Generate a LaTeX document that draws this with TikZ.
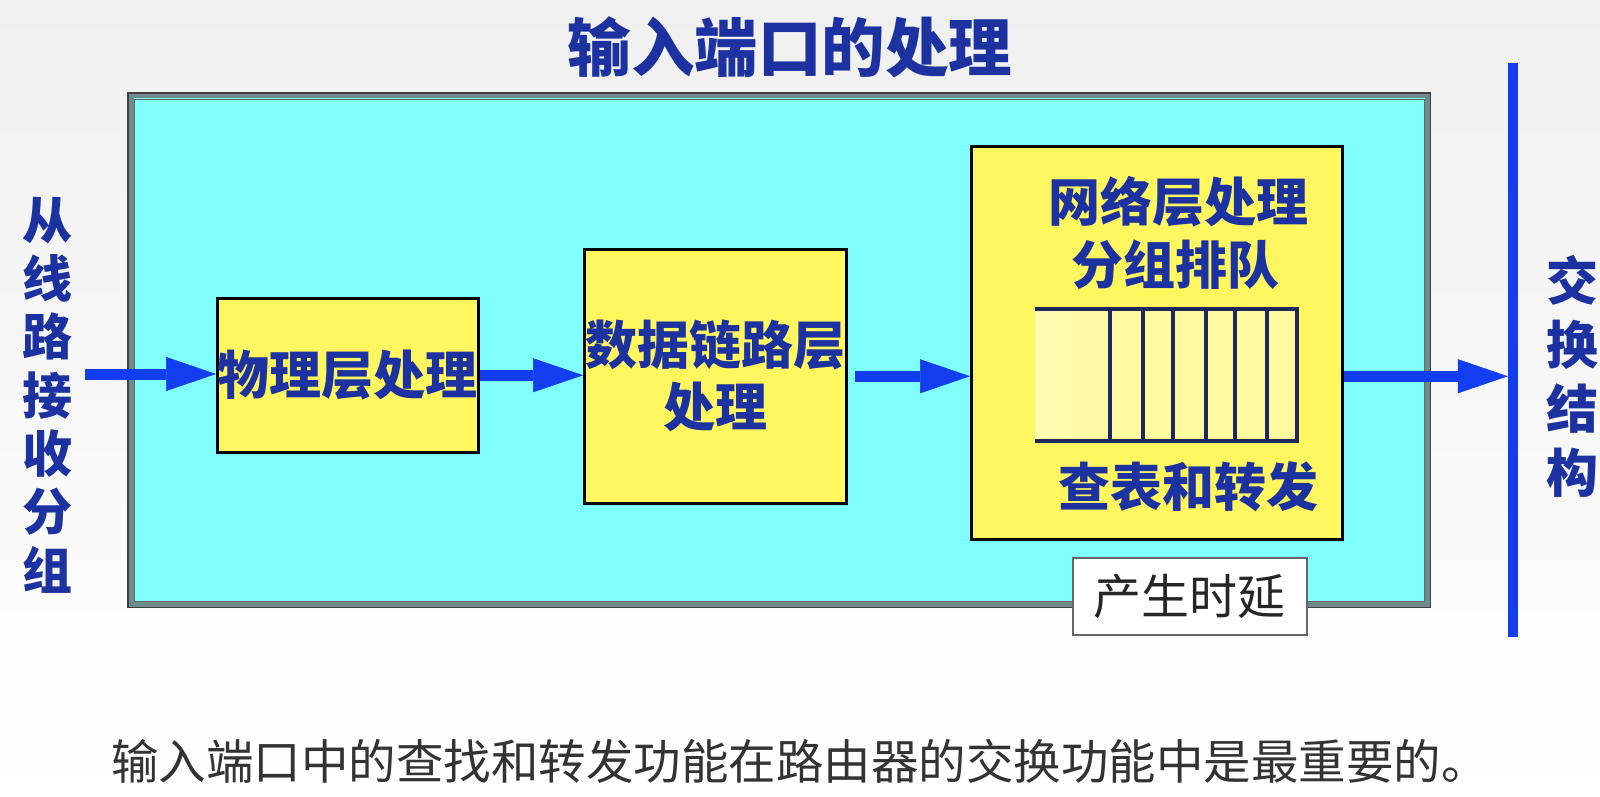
\documentclass[tikz,border=0pt]{standalone}
\usepackage{fontspec}
\setmainfont{Noto Sans CJK SC}
\usetikzlibrary{arrows.meta}
\definecolor{txtblue}{RGB}{28,50,160}
\definecolor{arrblue}{RGB}{18,62,240}
\definecolor{cyanbg}{RGB}{128,255,255}
\definecolor{boxyel}{RGB}{255,246,96}
\definecolor{qyel}{RGB}{255,250,160}
\definecolor{qline}{RGB}{30,40,90}
\definecolor{frgrey}{RGB}{110,140,140}
\definecolor{bgtop}{RGB}{240,240,240}
\tikzset{
  ybox/.style={draw=black, line width=2.5pt, fill=boxyel, inner sep=0pt, anchor=north west,
    font=\fontsize{52}{62}\selectfont\bfseries, text=txtblue, align=center},
  btxt/.style={font=\fontsize{52}{62}\selectfont\bfseries, text=txtblue, inner sep=0pt, align=center},
  flow/.style={draw=arrblue, line width=11pt, -{Triangle[length=50pt,width=34pt,line width=0.5pt]}},
}
\begin{document}
\begin{tikzpicture}[x=1pt,y=-1pt]
\useasboundingbox (0,0) rectangle (1600,797);
\fill[top color=bgtop, bottom color=white] (0,0) rectangle (1600,797);

% title
\node[btxt, font=\fontsize{63.5}{70}\selectfont\bfseries] (title) at (790,47) {输入端口的处理};

% input port frame
\node[fill=cyanbg, minimum width=1302pt, minimum height=514pt, anchor=north west, inner sep=0pt] (port) at (128,93) {};
\draw[frgrey, line width=5pt] ([shift={(3,3)}]port.north west) rectangle ([shift={(-3,-3)}]port.south east);
\draw[black!75, line width=1.2pt] (port.north west) rectangle (port.south east);
\draw[black!60, line width=0.8pt] ([shift={(6,6)}]port.north west) rectangle ([shift={(-6,-6)}]port.south east);

% processing boxes
\node[ybox, minimum width=261pt, minimum height=154pt] (phys) at (216,297) {物理层处理};
\node[ybox, minimum width=262pt, minimum height=254pt] (dl) at (583,248) {数据链路层\\处理};
\node[ybox, minimum width=371pt, minimum height=393pt] (net) at (970,145) {};

\node[btxt] (netl1) at (1178,202) {网络层处理};
\node[btxt] (netl2) at (1175,265) {分组排队};
\node[btxt] (netl3) at (1188,487) {查表和转发};

% queue
\node[fill=qyel, minimum width=262pt, minimum height=132pt, anchor=north west, inner sep=0pt] (queue) at (1035,309) {};
\fill[left color=qyel!80!white, right color=qyel] (queue.north west) rectangle (1110,441);
\draw[qline, line width=4pt] (queue.north west) -- (queue.north east) -- (queue.south east) -- (queue.south west);
\foreach \x in {1110,1143,1173,1206,1235,1267}
  \draw[qline, line width=4pt] (\x,309) -- (\x,441);

% delay label
\node[draw=black!60, line width=1.5pt, fill=white, minimum width=234pt, minimum height=77pt,
  anchor=north west, inner sep=0pt, font=\fontsize{48}{56}\selectfont, text=black!85] (delay) at (1072,557) {产生时延};

% switch fabric bar
\node[fill=arrblue, minimum width=10pt, minimum height=574pt, inner sep=0pt, anchor=north] (bar) at (1513,63) {};

% side labels
\node[btxt, font=\fontsize{50}{58.3}\selectfont\bfseries] (src) at (48,395) {从\\线\\路\\接\\收\\分\\组};
\node[btxt, font=\fontsize{52}{64}\selectfont\bfseries] (fabric) at (1572,376) {交\\换\\结\\构};

% arrows
\coordinate (in) at (85,374);
\draw[flow] (in) -- (phys.west |- in);
\draw[flow] (phys.east) -- (dl.west |- phys.east);
\draw[flow] ([xshift=7pt]dl.east) -- (net.west |- dl.east);
\draw[flow] (net.east |- dl.east) -- (bar.west |- dl.east);

% note
\node[font=\fontsize{47.5}{56}\selectfont, text=black!80, inner sep=0pt] (note) at (800,761)
  {输入端口中的查找和转发功能在路由器的交换功能中是最重要的。};
\end{tikzpicture}
\end{document}
